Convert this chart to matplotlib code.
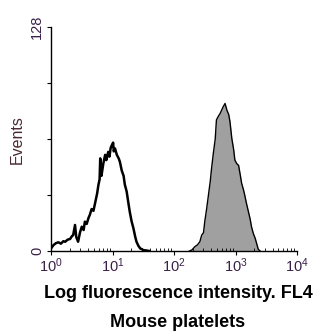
import numpy as np
from matplotlib import pyplot as plt

plt.rcParams['font.family'] = ['Liberation Sans', 'DejaVu Sans']
plt.rcParams['mathtext.default'] = 'regular'

# unstained control (open histogram), log10 fluorescence vs events
ctrl_log = [0.00, 0.04, 0.08, 0.12, 0.16, 0.20, 0.23, 0.27, 0.31, 0.34, 0.36, 0.39, 0.41,
            0.44, 0.47, 0.50, 0.53, 0.55, 0.58, 0.61, 0.63, 0.66, 0.69, 0.72, 0.75,
            0.77, 0.79, 0.80, 0.81, 0.82, 0.85, 0.88, 0.90, 0.93, 0.95, 0.97, 0.99,
            1.01, 1.02, 1.04, 1.07, 1.10, 1.12, 1.15, 1.18, 1.20, 1.23, 1.26, 1.28,
            1.31, 1.34, 1.37, 1.39, 1.42, 1.45, 1.48, 1.50, 1.55, 1.60]
ctrl_cnt = [1.5, 3.4, 4.5, 5.0, 4.2, 5.6, 5.3, 6.5, 6.9, 8.5, 9.1, 14.9, 8.0,
            5.3, 10.5, 13.9, 12.0, 16.8, 15.5, 19.0, 20.6, 24.0, 23.0, 28.0, 33.0,
            37.7, 41.0, 53.0, 45.0, 43.0, 50.0, 55.0, 52.0, 56.7, 54.0, 59.0, 60.6,
            62.0, 57.0, 58.7, 55.0, 53.0, 51.0, 46.0, 43.0, 38.0, 34.0, 27.0, 22.5,
            17.0, 13.0, 8.0, 5.3, 3.0, 1.5, 1.0, 0.5, 0.3, 0.0]

# stained platelets (filled histogram)
stain_log = [2.25, 2.29, 2.34, 2.38, 2.42, 2.45, 2.48, 2.50, 2.53, 2.56, 2.59, 2.61,
             2.64, 2.67, 2.69, 2.72, 2.75, 2.78, 2.80, 2.83, 2.86, 2.89, 2.91, 2.94,
             2.97, 2.99, 3.02, 3.05, 3.08, 3.10, 3.13, 3.15, 3.18, 3.21, 3.24, 3.26,
             3.29, 3.32, 3.35, 3.37, 3.40]
stain_cnt = [0.0, 0.6, 2.5, 3.5, 5.3, 9.1, 10.5, 16.8, 24.0, 32.0, 40.0, 47.0,
             56.0, 64.0, 75.0, 77.0, 78.7, 81.0, 82.5, 84.4, 80.6, 78.0, 74.0, 64.4,
             58.0, 52.0, 50.0, 49.0, 43.0, 38.7, 35.0, 32.0, 27.0, 22.5, 18.0, 13.9,
             10.0, 7.3, 3.5, 1.0, 0.0]

tick_col = '#3a2048'

fig = plt.figure(figsize=(3.19, 3.35), dpi=100)
ax = fig.add_axes([0.16, 0.2507, 0.771, 0.668])

ctrl_x = 10 ** np.array(ctrl_log)
stain_x = 10 ** np.array(stain_log)
ax.fill_between(stain_x, stain_cnt, 0, color='#a0a0a0', lw=0)
ax.plot(stain_x, stain_cnt, color='black', lw=1.0)
ax.plot(ctrl_x, ctrl_cnt, color='black', lw=1.8)

ax.set_xscale('log')
ax.set_xlim(1, 1e4)
ax.set_ylim(0, 128)

ax.spines['top'].set_visible(False)
ax.spines['right'].set_visible(False)
ax.spines['left'].set_linewidth(1.0)
ax.spines['bottom'].set_linewidth(1.0)

ax.set_xticks([1, 10, 100, 1000, 10000])
ax.set_xticklabels([r'$10^{0}$', r'$10^{1}$', r'$10^{2}$', r'$10^{3}$', r'$10^{4}$'],
                   color=tick_col, fontsize=10.5)
ax.tick_params(axis='x', which='major', direction='out', length=3, pad=1)
ax.tick_params(axis='x', which='minor', direction='in', length=2.5)

ax.set_yticks([0, 32, 64, 96, 128])
ax.set_yticklabels(['0', '', '', '', '128'], rotation=90, va='center',
                   color=tick_col, fontsize=10.5)
ax.tick_params(axis='y', direction='out', length=3, pad=2)

ax.set_ylabel('Events', color='#4a2a30', fontsize=11.5)
ax.yaxis.set_label_coords(-0.106, 0.5)

fig.text(0.558, 0.125, 'Log fluorescence intensity. FL4', ha='center', va='center',
         fontsize=13, fontweight='bold')
fig.text(0.558, 0.036, 'Mouse platelets', ha='center', va='center',
         fontsize=13, fontweight='bold')

fig.savefig('out.png', dpi=100)
